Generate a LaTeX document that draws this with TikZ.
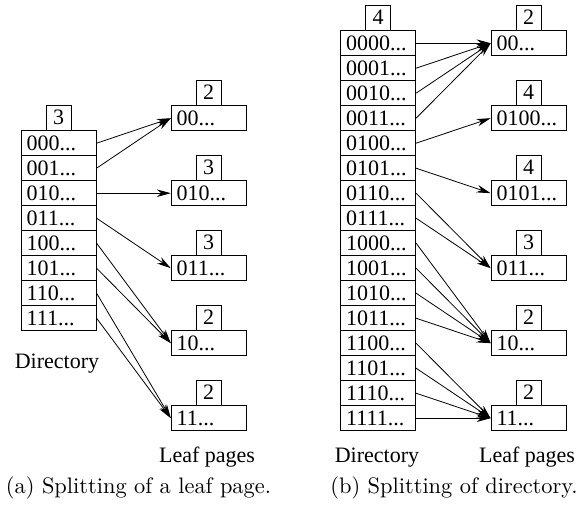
\documentclass[tikz,border=0pt]{standalone}
\usepackage{fontspec}
\newfontfamily\timesfont{Liberation Serif}
\usetikzlibrary{arrows.meta}

\tikzset{
  bx/.style={draw, line width=0.8pt, inner ysep=0pt, minimum height=25pt,
    font=\timesfont\fontsize{22}{24}\selectfont},
  cell/.style={bx, inner xsep=5.5pt, text width=64pt, align=left, minimum width=75pt},
  depthbox/.style={bx, inner xsep=0pt, minimum width=25pt},
  lbl/.style={anchor=base, inner sep=0pt, font=\timesfont\fontsize{22}{24}\selectfont},
  subcaption/.style={anchor=base, inner sep=0pt, font=\fontsize{10}{12}\selectfont},
  ptr/.style={line width=0.8pt, -{Stealth[length=14pt, width=7.5pt, inset=4.5pt]}},
}
% captions are set at 10pt and enlarged
\newcommand{\capscaled}[1]{\scalebox{2.24}{#1}}

\begin{document}
\begin{tikzpicture}[x=1pt, y=-1pt]
\useasboundingbox (0,0) rectangle (581,506);

% ---------- (a) splitting of a leaf page ----------
\foreach \lab [count=\i from 0] in {000,001,010,011,100,101,110,111}
  \node[cell] (a\i) at (58.7,143.2+25*\i) {\lab...};
\node[depthbox, anchor=south] (ad) at (a0.north) {3};

\foreach \lab/\d [count=\k from 0] in {00/2,010/3,011/3,10/2,11/2} {
  \node[cell] (al\k) at (208.7,118.2+75*\k) {\lab...};
  \node[depthbox, anchor=south] (ald\k) at (al\k.north) {\d};
}

\foreach \s/\t in {0/0,1/0,2/1,3/2,4/3,5/3,6/4,7/4}
  \draw[ptr] (a\s.east) -- (al\t.west);

\node[lbl] (adir) at (57,368.5) {Directory};
\node[lbl] (aleaf) at (207,462.8) {Leaf pages};
\node[subcaption] (acap) at (138.5,493.3) {\capscaled{(a) Splitting of a leaf page.}};

% ---------- (b) splitting of the directory ----------
\foreach \lab [count=\i from 0] in {0000,0001,0010,0011,0100,0101,0110,0111,
                                     1000,1001,1010,1011,1100,1101,1110,1111}
  \node[cell] (b\i) at (378.2,43.2+25*\i) {\lab...};
\node[depthbox, anchor=south] (bd) at (b0.north) {4};

\foreach \lab/\d [count=\k from 0] in {00/2,0100/4,0101/4,011/3,10/2,11/2} {
  \node[cell] (bl\k) at (528.5,43.2+75*\k) {\lab...};
  \node[depthbox, anchor=south] (bld\k) at (bl\k.north) {\d};
}

\foreach \s/\t in {0/0,1/0,2/0,3/0,4/1,5/2,6/3,7/3,
                   8/4,9/4,10/4,11/4,12/5,13/5,14/5,15/5}
  \draw[ptr] (b\s.east) -- (bl\t.west);

\node[lbl] (bdir) at (377,462.8) {Directory};
\node[lbl] (bleaf) at (527,462.8) {Leaf pages};
\node[subcaption] (bcap) at (454,493.3) {\capscaled{(b) Splitting of directory.}};
\end{tikzpicture}
\end{document}
